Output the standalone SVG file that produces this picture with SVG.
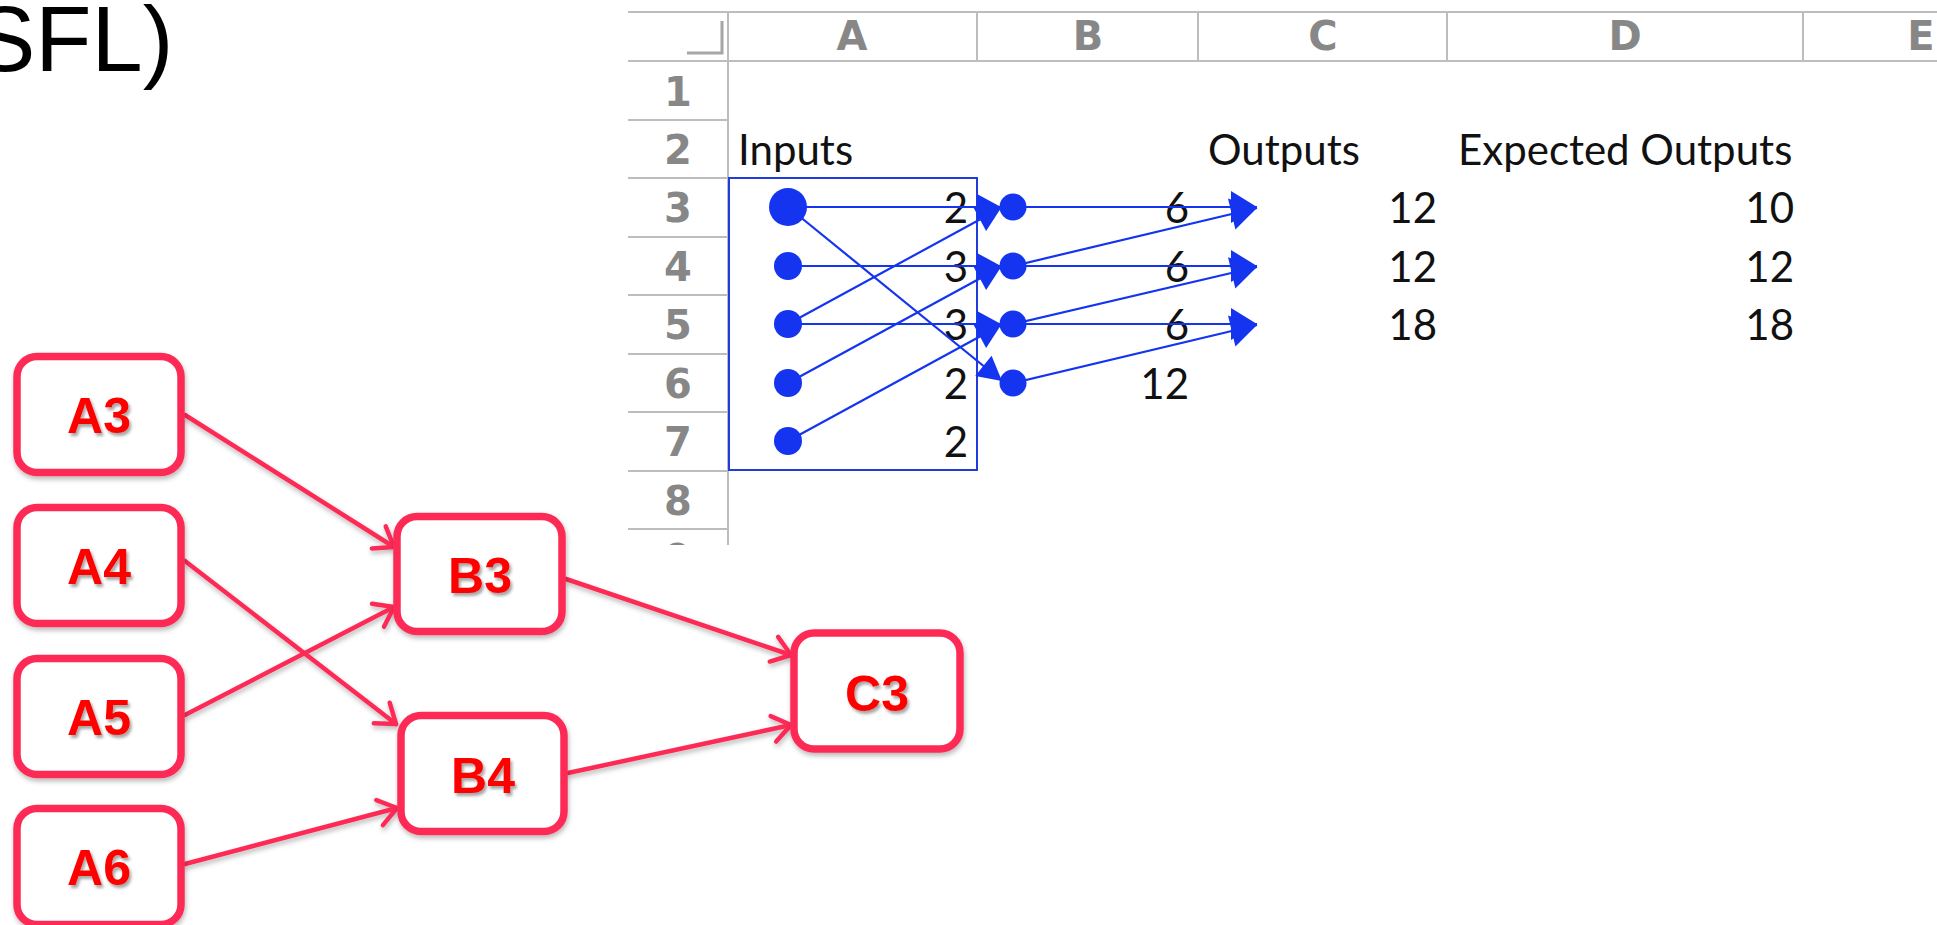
<svg xmlns="http://www.w3.org/2000/svg" width="1937" height="925" viewBox="0 0 1937 925">
  <defs>
    <style>
      .hdr { font-family: "DejaVu Sans", "Liberation Sans", sans-serif; font-size: 40px; font-weight: bold; fill: #878787; text-anchor: middle; }
      .cell { font-family: Lato, "Open Sans", "Liberation Sans", sans-serif; font-size: 42px; fill: #111111; }
      .num { text-anchor: end; }
      .grid { stroke: #bdbdbd; stroke-width: 2; fill: none; }
      .trace { stroke: #1434f0; stroke-width: 2.2; fill: none; }
      .dot { fill: #1434f0; }
      .node rect { fill: #ffffff; stroke: #fd2c57; stroke-width: 7.5; }
      .node text { font-family: "Liberation Sans", Arial, sans-serif; font-weight: bold; font-size: 50px; fill: #ff0000; text-anchor: middle; filter: url(#txtShadow); }
      .edge { stroke: #fd2c57; stroke-width: 4.5; fill: none; stroke-linecap: round; }
    </style>
    <clipPath id="sheetClip">
      <rect x="628" y="0" width="1309" height="545"/>
    </clipPath>
    <!-- tracer arrowheads: small ones land in column B, large ones in column C -->
    <marker id="tri" viewBox="-30 -20 34 40" refX="0" refY="0" markerWidth="34" markerHeight="40" markerUnits="userSpaceOnUse" orient="auto" overflow="visible">
      <path d="M0,0 L-24,-13 L-24,13 Z" fill="#1434f0"/>
    </marker>
    <marker id="triL" viewBox="-30 -20 34 40" refX="0" refY="0" markerWidth="34" markerHeight="40" markerUnits="userSpaceOnUse" orient="auto" overflow="visible">
      <path d="M0,0 L-26,-16 L-26,16 Z" fill="#1434f0"/>
    </marker>
    <marker id="chev" viewBox="-24 -18 28 36" refX="0" refY="0" markerWidth="28" markerHeight="36" markerUnits="userSpaceOnUse" orient="auto" overflow="visible">
      <path d="M-18,-13 L0,0 L-18,13" fill="none" stroke="#fd2c57" stroke-width="4.5" stroke-linecap="round" stroke-linejoin="round"/>
    </marker>
    <filter id="boxShadow" x="-20%" y="-20%" width="140%" height="150%">
      <feDropShadow dx="1" dy="3" stdDeviation="2.5" flood-color="#000" flood-opacity="0.28"/>
    </filter>
    <filter id="txtShadow" x="-20%" y="-20%" width="140%" height="150%">
      <feDropShadow dx="2" dy="3" stdDeviation="1.5" flood-color="#000" flood-opacity="0.35"/>
    </filter>
  </defs>

  <rect width="1937" height="925" fill="#ffffff"/>

  <!-- slide title fragment -->
  <text x="-26" y="71" font-family="'Liberation Sans', Arial, sans-serif" font-size="92" fill="#000000">SFL)</text>

  <!-- spreadsheet -->
  <g id="sheet" clip-path="url(#sheetClip)">
    <g id="sheet-grid">
      <line class="grid" x1="628" y1="12" x2="1937" y2="12"/>
      <line class="grid" x1="628" y1="61" x2="1937" y2="61"/>
      <line class="grid" x1="728" y1="12" x2="728" y2="545"/>
      <line class="grid" x1="977" y1="12" x2="977" y2="61"/>
      <line class="grid" x1="1198" y1="12" x2="1198" y2="61"/>
      <line class="grid" x1="1447" y1="12" x2="1447" y2="61"/>
      <line class="grid" x1="1803" y1="12" x2="1803" y2="61"/>
      <polyline points="687,53 722,53 722,21" fill="none" stroke="#a6a6a6" stroke-width="3"/>
      <line class="grid" x1="628" y1="120" x2="728" y2="120"/>
      <line class="grid" x1="628" y1="178" x2="728" y2="178"/>
      <line class="grid" x1="628" y1="237" x2="728" y2="237"/>
      <line class="grid" x1="628" y1="295" x2="728" y2="295"/>
      <line class="grid" x1="628" y1="354" x2="728" y2="354"/>
      <line class="grid" x1="628" y1="412" x2="728" y2="412"/>
      <line class="grid" x1="628" y1="471" x2="728" y2="471"/>
      <line class="grid" x1="628" y1="529" x2="728" y2="529"/>
    </g>
    <g id="col-headers">
      <text class="hdr" x="852" y="50">A</text>
      <text class="hdr" x="1088" y="50">B</text>
      <text class="hdr" x="1323" y="50">C</text>
      <text class="hdr" x="1625" y="50">D</text>
      <text class="hdr" x="1921" y="50">E</text>
    </g>
    <g id="row-headers">
      <text class="hdr" x="678" y="106">1</text>
      <text class="hdr" x="678" y="164">2</text>
      <text class="hdr" x="678" y="222">3</text>
      <text class="hdr" x="678" y="281">4</text>
      <text class="hdr" x="678" y="339">5</text>
      <text class="hdr" x="678" y="398">6</text>
      <text class="hdr" x="678" y="456">7</text>
      <text class="hdr" x="678" y="515">8</text>
      <text class="hdr" x="678" y="573">9</text>
    </g>
    <g id="cells">
      <text class="cell" x="738" y="165">Inputs</text>
      <text class="cell" x="1208" y="165">Outputs</text>
      <text class="cell" x="1458" y="165">Expected Outputs</text>
      <text class="cell num" x="968" y="223">2</text>
      <text class="cell num" x="968" y="282">3</text>
      <text class="cell num" x="968" y="340">3</text>
      <text class="cell num" x="968" y="399">2</text>
      <text class="cell num" x="968" y="457">2</text>
      <text class="cell num" x="1189" y="223">6</text>
      <text class="cell num" x="1189" y="282">6</text>
      <text class="cell num" x="1189" y="340">6</text>
      <text class="cell num" x="1189" y="399">12</text>
      <text class="cell num" x="1437" y="223">12</text>
      <text class="cell num" x="1437" y="282">12</text>
      <text class="cell num" x="1437" y="340">18</text>
      <text class="cell num" x="1794" y="223">10</text>
      <text class="cell num" x="1794" y="282">12</text>
      <text class="cell num" x="1794" y="340">18</text>
    </g>
    <!-- precedent trace arrows -->
    <g id="trace-arrows">
      <rect x="729" y="178" width="248" height="292" fill="none" stroke="#1f3cdc" stroke-width="2"/>
      <line class="trace" x1="788" y1="207" x2="1001" y2="207" marker-end="url(#tri)"/>
      <line class="trace" x1="788" y1="324" x2="1001" y2="208" marker-end="url(#tri)"/>
      <line class="trace" x1="788" y1="266" x2="1001" y2="266" marker-end="url(#tri)"/>
      <line class="trace" x1="788" y1="383" x2="1001" y2="267" marker-end="url(#tri)"/>
      <line class="trace" x1="788" y1="324" x2="1001" y2="324" marker-end="url(#tri)"/>
      <line class="trace" x1="788" y1="441" x2="1001" y2="325" marker-end="url(#tri)"/>
      <line class="trace" x1="788" y1="207" x2="1002" y2="381" stroke-width="4" marker-end="url(#tri)"/>
      <line class="trace" x1="1013" y1="207" x2="1257" y2="207" marker-end="url(#triL)"/>
      <line class="trace" x1="1013" y1="266" x2="1257" y2="208" marker-end="url(#triL)"/>
      <line class="trace" x1="1013" y1="266" x2="1257" y2="266" marker-end="url(#triL)"/>
      <line class="trace" x1="1013" y1="324" x2="1257" y2="267" marker-end="url(#triL)"/>
      <line class="trace" x1="1013" y1="324" x2="1257" y2="324" marker-end="url(#triL)"/>
      <line class="trace" x1="1013" y1="383" x2="1257" y2="325" marker-end="url(#triL)"/>
      <circle class="dot" cx="788" cy="207" r="19"/>
      <circle class="dot" cx="788" cy="266" r="14"/>
      <circle class="dot" cx="788" cy="324" r="14"/>
      <circle class="dot" cx="788" cy="383" r="14"/>
      <circle class="dot" cx="788" cy="441" r="14"/>
      <circle class="dot" cx="1013" cy="207" r="13.5"/>
      <circle class="dot" cx="1013" cy="266" r="13.5"/>
      <circle class="dot" cx="1013" cy="324" r="13.5"/>
      <circle class="dot" cx="1013" cy="383" r="13.5"/>
    </g>
  </g>

  <!-- dependency graph -->
  <g id="connectors" filter="url(#boxShadow)">
    <line class="edge" x1="185" y1="415" x2="394" y2="547" marker-end="url(#chev)"/>
    <line class="edge" x1="185" y1="561" x2="396" y2="724" marker-end="url(#chev)"/>
    <line class="edge" x1="185" y1="715" x2="394" y2="607" marker-end="url(#chev)"/>
    <line class="edge" x1="185" y1="864" x2="397" y2="808" marker-end="url(#chev)"/>
    <line class="edge" x1="566" y1="579" x2="791" y2="655" marker-end="url(#chev)"/>
    <line class="edge" x1="568" y1="773" x2="791" y2="725" marker-end="url(#chev)"/>
  </g>

  <g id="node-A3" class="node" filter="url(#boxShadow)">
    <rect x="17" y="356.5" width="164" height="116" rx="20"/>
    <text x="99" y="432.5">A3</text>
  </g>
  <g id="node-A4" class="node" filter="url(#boxShadow)">
    <rect x="17" y="507.5" width="164" height="116" rx="20"/>
    <text x="99" y="583.5">A4</text>
  </g>
  <g id="node-A5" class="node" filter="url(#boxShadow)">
    <rect x="17" y="658.5" width="164" height="116" rx="20"/>
    <text x="99" y="734.5">A5</text>
  </g>
  <g id="node-A6" class="node" filter="url(#boxShadow)">
    <rect x="17" y="808.5" width="164" height="116" rx="20"/>
    <text x="99" y="884.5">A6</text>
  </g>
  <g id="node-B3" class="node" filter="url(#boxShadow)">
    <rect x="397" y="516.5" width="165" height="115" rx="20"/>
    <text x="480" y="593">B3</text>
  </g>
  <g id="node-B4" class="node" filter="url(#boxShadow)">
    <rect x="401" y="715.5" width="163" height="116" rx="20"/>
    <text x="483" y="793">B4</text>
  </g>
  <g id="node-C3" class="node" filter="url(#boxShadow)">
    <rect x="794" y="633" width="166" height="116" rx="20"/>
    <text x="877" y="711">C3</text>
  </g>
</svg>
